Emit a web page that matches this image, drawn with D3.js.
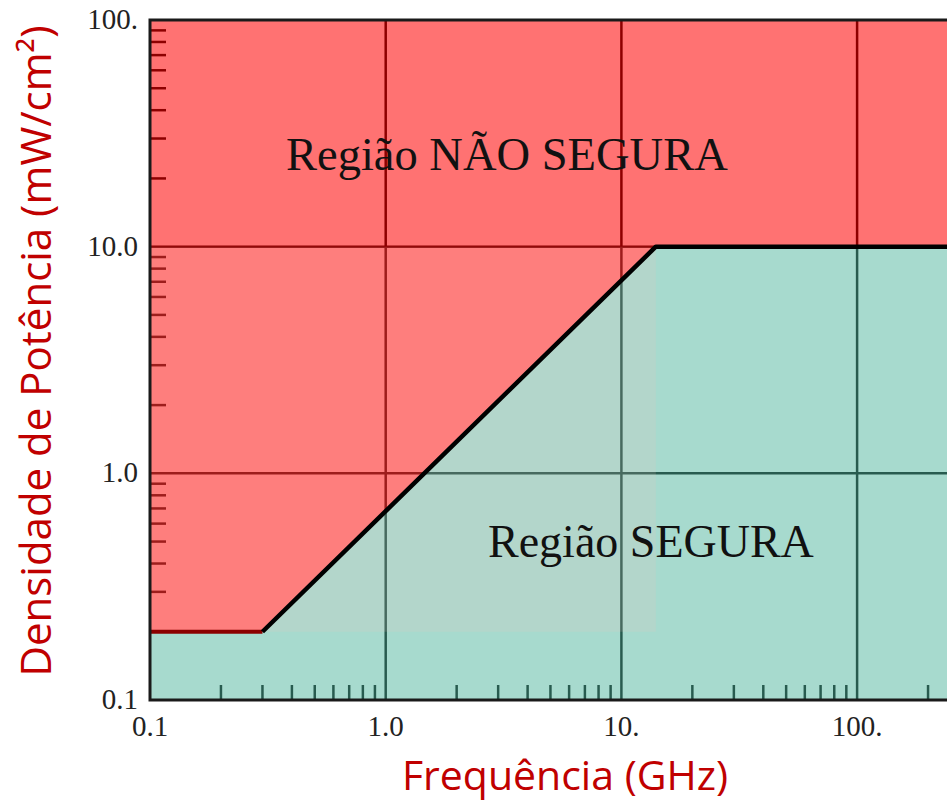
<!DOCTYPE html>
<html>
<head>
<meta charset="utf-8">
<script src="https://cdn.jsdelivr.net/npm/d3@7"></script>
<style>
  html, body { margin: 0; padding: 0; background: #fff; }
  svg { display: block; overflow: hidden; }
</style>
</head>
<body>
<svg id="chart" width="947" height="803"></svg>
<script>
// tick values and their printed labels
const freqTicks = [0.1, 1, 10, 100]
const freqLabels = ['0.1', '1.0', '10.', '100.']
const densTicks = [0.1, 1, 10, 100]
const densLabels = ['0.1', '1.0', '10.0', '100.']

// exposure limit curve (GHz -> mW/cm²)
const limitFreq = [0.1, 0.3, 14, 1000]
const limitDens = [0.2, 0.2, 10, 10]

// lighter pasted patch in the middle of the chart
const patchFreq = [0.1, 14]
const patchDens = [0.2, 10]

const regionUnsafe = 'Região NÃO SEGURA'
const regionSafe = 'Região SEGURA'

const svg = d3.select('#chart')

const plotLeft = 150, plotTop = 20, plotBottom = 700
const decade = 235.7

const x = d3.scaleLog().domain([0.1, 1000]).range([plotLeft, plotLeft + 4 * decade])
const y = d3.scaleLog().domain([0.1, 100]).range([plotBottom, plotTop])
const xMax = 1000

const g = svg.append('g')

// grid (drawn first, tinted by the translucent fills above)
g.selectAll('.vgrid')
  .data(freqTicks.filter(d => d > 0.1))
  .join('line')
  .attr('class', 'vgrid')
  .attr('x1', d => x(d)).attr('x2', d => x(d))
  .attr('y1', plotTop).attr('y2', plotBottom)
  .attr('stroke', '#000').attr('stroke-width', 2.5)

g.selectAll('.hgrid')
  .data(densTicks.filter(d => d > 0.1 && d < 100))
  .join('line')
  .attr('class', 'hgrid')
  .attr('x1', plotLeft).attr('x2', x(xMax))
  .attr('y1', d => y(d)).attr('y2', d => y(d))
  .attr('stroke', '#000').attr('stroke-width', 2.5)

// minor ticks: 2..9 in every decade
const minors = (lo, hi) => {
  const out = []
  for (let e = lo; e < hi; e++) for (let k = 2; k <= 9; k++) out.push(k * Math.pow(10, e))
  return out
}

g.selectAll('.ytick')
  .data(minors(-1, 2))
  .join('line')
  .attr('class', 'ytick')
  .attr('x1', plotLeft).attr('x2', plotLeft + 16)
  .attr('y1', d => y(d)).attr('y2', d => y(d))
  .attr('stroke', '#000').attr('stroke-width', 2.5)

g.selectAll('.xtick')
  .data(minors(-1, 3))
  .join('line')
  .attr('class', 'xtick')
  .attr('x1', d => x(d)).attr('x2', d => x(d))
  .attr('y1', plotBottom).attr('y2', plotBottom - 15)
  .attr('stroke', '#000').attr('stroke-width', 2.5)

// fills
const limitPts = limitFreq.map((f, i) => [x(f), y(limitDens[i])])
const line = d3.line()

const redPts = [[x(0.1), y(100)], ...limitPts, [x(xMax), y(100)]]
const greenPts = [[x(0.1), y(0.1)], ...limitPts, [x(xMax), y(0.1)]]

g.append('path')
  .attr('d', line(redPts) + 'Z')
  .attr('fill', 'rgb(255,0,0)').attr('fill-opacity', 0.553)

g.append('path')
  .attr('d', line(greenPts) + 'Z')
  .attr('fill', 'rgb(80,182,158)').attr('fill-opacity', 0.5)

g.append('rect')
  .attr('x', x(patchFreq[0]))
  .attr('y', y(patchDens[1]))
  .attr('width', x(patchFreq[1]) - x(patchFreq[0]))
  .attr('height', y(patchDens[0]) - y(patchDens[1]))
  .attr('fill', 'rgb(248,196,190)').attr('fill-opacity', 0.15)

// limit line: flat low segment sits under the red, the rest is black
g.append('path')
  .attr('d', line(limitPts.slice(0, 2)))
  .attr('fill', 'none').attr('stroke', '#8b0000').attr('stroke-width', 4)

g.append('path')
  .attr('d', line(limitPts.slice(1)))
  .attr('fill', 'none').attr('stroke', '#000').attr('stroke-width', 4.5)
  .attr('stroke-linejoin', 'round')

// frame
g.append('path')
  .attr('d', `M${x(xMax)},${y(100)}H${plotLeft}V${plotBottom}H${x(xMax)}`)
  .attr('fill', 'none').attr('stroke', '#1a1a1a').attr('stroke-width', 3)

// tick labels
const serif = '"Liberation Serif", "Times New Roman", serif'

g.selectAll('.ylab')
  .data(densTicks)
  .join('text')
  .attr('class', 'ylab')
  .attr('x', 138)
  .attr('y', d => y(d) + 9)
  .attr('text-anchor', 'end')
  .attr('font-family', serif).attr('font-size', 29).attr('fill', '#222')
  .text((d, i) => densLabels[i])

g.selectAll('.xlab')
  .data(freqTicks)
  .join('text')
  .attr('class', 'xlab')
  .attr('x', d => x(d))
  .attr('y', 736)
  .attr('text-anchor', 'middle')
  .attr('font-family', serif).attr('font-size', 29).attr('fill', '#222')
  .text((d, i) => freqLabels[i])

// region names
g.append('text')
  .attr('x', 286).attr('y', 170)
  .attr('font-family', serif).attr('font-size', 46.5).attr('fill', '#111')
  .text(regionUnsafe)

g.append('text')
  .attr('x', 488).attr('y', 557)
  .attr('font-family', serif).attr('font-size', 46).attr('fill', '#111')
  .text(regionSafe)

// axis titles
const sans = '"Open Sans", "Noto Sans", sans-serif'

svg.append('text')
  .attr('x', 565).attr('y', 790)
  .attr('text-anchor', 'middle')
  .attr('font-family', sans).attr('font-size', 41).attr('fill', '#c00000')
  .text('Frequência (GHz)')

svg.append('text')
  .attr('transform', 'translate(51,351) rotate(-90)')
  .attr('text-anchor', 'middle')
  .attr('font-family', sans).attr('font-size', 42).attr('fill', '#c00000')
  .text('Densidade de Potência (mW/cm²)')
</script>
</body>
</html>
